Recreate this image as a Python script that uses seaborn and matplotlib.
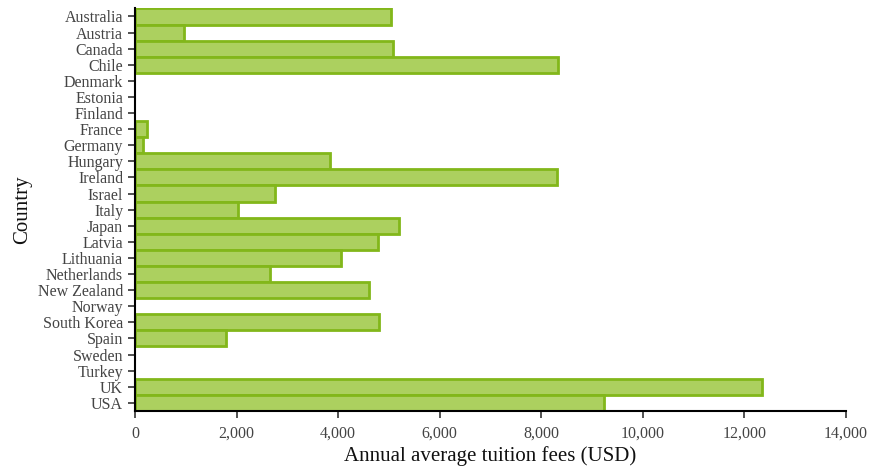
import numpy as np
import pandas as pd
import seaborn as sns
import matplotlib
matplotlib.use("Agg")
import matplotlib.pyplot as plt
from matplotlib.ticker import StrMethodFormatter

countries = ["Australia", "Austria", "Canada", "Chile", "Denmark", "Estonia",
             "Finland", "France", "Germany", "Hungary", "Ireland", "Israel",
             "Italy", "Japan", "Latvia", "Lithuania", "Netherlands",
             "New Zealand", "Norway", "South Korea", "Spain", "Sweden",
             "Turkey", "UK", "USA"]
fees = [5040, 960, 5075, 8330, 0, 0,
        0, 235, 150, 3850, 8320, 2765,
        2030, 5195, 4785, 4060, 2665,
        4600, 0, 4815, 1785, 0,
        0, 12340, 9230]

df = pd.DataFrame({"Country": countries, "Fees": fees})

sns.set_style("white")
plt.rcParams["font.family"] = ["Liberation Serif", "DejaVu Serif"]

fig = plt.figure(figsize=(8.69, 4.69), dpi=100)
ax = fig.add_axes([0.1553, 0.124, 0.818, 0.858])

sns.barplot(data=df, x="Fees", y="Country", orient="h", width=1,
            color="#acd05f", edgecolor="#82b71a", linewidth=2,
            saturation=1, ax=ax)

# zero-width bars would leave a green stub on the axis
for p in ax.patches:
    if p.get_width() == 0:
        p.set_visible(False)

ax.set_xlim(0, 14000)
ax.set_xticks(np.arange(0, 14001, 2000))
ax.xaxis.set_major_formatter(StrMethodFormatter("{x:,.0f}"))

sns.despine(ax=ax)
for s in ["left", "bottom"]:
    ax.spines[s].set_color("black")
    ax.spines[s].set_linewidth(1.5)

ax.tick_params(axis="both", length=5, width=1.2, color="#333333",
               labelsize=11.5, labelcolor="#444444", direction="out",
               bottom=True, left=True)
ax.tick_params(axis="x", pad=6)
ax.set_xlabel("Annual average tuition fees (USD)", fontsize=15, color="#111111",
              labelpad=3)
ax.set_ylabel("Country", fontsize=15, color="#111111", labelpad=4)

fig.savefig("out.png", dpi=100)
